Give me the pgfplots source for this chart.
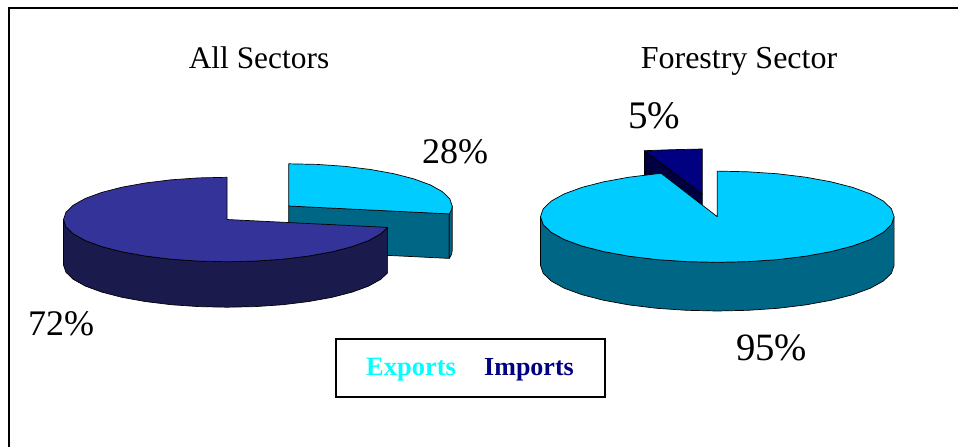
\documentclass[border=0pt]{standalone}
\usepackage{pgfplots}
\pgfplotsset{compat=1.18}
\usepackage{fontspec}
\setmainfont{Liberation Serif}
\definecolor{cyantop}{HTML}{00CCFF}
\definecolor{cyanwall}{HTML}{006685}
\definecolor{indigotop}{HTML}{333399}
\definecolor{indigowall}{HTML}{1A1A4D}
\definecolor{navytop}{HTML}{000080}
\definecolor{navywall}{HTML}{000040}
\definecolor{legendcyan}{HTML}{00FFFF}
\tikzset{caption text/.style={anchor=base, inner sep=0pt}}
\begin{document}
\begin{tikzpicture}[x=1pt,y=1pt]
\begin{axis}[
  width=958pt, height=447pt, scale only axis,
  xmin=0, xmax=958, ymin=0, ymax=447, y dir=reverse,
  hide axis, clip=true,
]
% Keep the whole plotting area on the page
\path (rel axis cs:0,0) rectangle (rel axis cs:1,1);
\pgfplotsset{slice/.style={draw=black, line width=0.7pt, line join=round}}

% Outer frame
\addplot[black, line width=1.5pt] coordinates {(9,447) (9,8) (958,8)};

% All Sectors: exports slice, pulled out
\addplot[slice, fill=cyanwall] coordinates {(288.7,206) (449.3,213.9) (449.3,258.4) (288.7,250.5)} -- cycle;
\addplot[slice, fill=cyanwall] coordinates {(452.2,206) (451.6,209.7) (449.3,213.9) (449.3,258.4) (451.6,254.2) (452.2,250.5)} -- cycle;
\addplot[slice, fill=cyantop] coordinates {(288.7,206) (288.7,163.8) (317.1,164.4) (344.6,166.3) (370.5,169.5) (393.8,173.7) (413.9,178.9) (430.3,184.9) (442.3,191.6) (449.7,198.7) (452.2,206) (451.6,209.7) (449.3,213.9)} -- cycle;

% All Sectors: imports slice
\addplot[slice, fill=indigowall] coordinates {(63.5,219.5) (66.0,226.8) (73.4,233.9) (85.4,240.6) (101.8,246.6) (121.9,251.8) (145.2,256.0) (171.1,259.2) (198.6,261.1) (227,261.7) (255.4,261.1) (282.9,259.2) (308.8,256.0) (332.1,251.8) (352.2,246.6) (368.6,240.6) (380.6,233.9) (387.6,227.4) (387.6,272.9) (380.6,279.4) (368.6,286.1) (352.2,292.1) (332.1,297.3) (308.8,301.5) (282.9,304.7) (255.4,306.6) (227,307.2) (198.6,306.6) (171.1,304.7) (145.2,301.5) (121.9,297.3) (101.8,292.1) (85.4,286.1) (73.4,279.4) (66.0,272.3) (63.5,265.0)} -- cycle;
\addplot[slice, fill=indigotop] coordinates {(227,219.5) (227,177.3) (198.6,177.9) (171.1,179.8) (145.2,183.0) (121.9,187.2) (101.8,192.4) (85.4,198.4) (73.4,205.1) (66.0,212.2) (63.5,219.5) (66.0,226.8) (73.4,233.9) (85.4,240.6) (101.8,246.6) (121.9,251.8) (145.2,256.0) (171.1,259.2) (198.6,261.1) (227,261.7) (255.4,261.1) (282.9,259.2) (308.8,256.0) (332.1,251.8) (352.2,246.6) (368.6,240.6) (380.6,233.9) (387.6,227.4)} -- cycle;

% Forestry Sector: imports slice, pulled out
\addplot[slice, fill=navywall] coordinates {(644.5,150.7) (702.3,194) (702.3,243) (644.5,200)} -- cycle;
\addplot[slice, fill=navytop] coordinates {(702.3,194) (702.3,149) (671.6,149.7) (644.5,150.7)} -- cycle;

% Forestry Sector: exports slice
\addplot[slice, fill=cyanwall] coordinates {(894.1,216.7) (891.4,224.6) (883.4,232.3) (870.4,239.5) (852.7,246.0) (830.9,251.6) (805.7,256.2) (777.8,259.6) (748.0,261.6) (717.3,262.3) (686.6,261.6) (656.8,259.6) (628.9,256.2) (603.7,251.6) (581.9,246.0) (564.2,239.5) (551.2,232.3) (543.2,224.6) (540.5,216.7) (540.5,265.4) (543.2,273.3) (551.2,281.0) (564.2,288.2) (581.9,294.7) (603.7,300.3) (628.9,304.9) (656.8,308.3) (686.6,310.3) (717.3,311.0) (748.0,310.3) (777.8,308.3) (805.7,304.9) (830.9,300.3) (852.7,294.7) (870.4,288.2) (883.4,281.0) (891.4,273.3) (894.1,265.4)} -- cycle;
\addplot[slice, fill=cyantop] coordinates {(717.3,216.7) (717.3,171.1) (748.0,171.8) (777.8,173.8) (805.7,177.2) (830.9,181.8) (852.7,187.4) (870.4,193.9) (883.4,201.1) (891.4,208.8) (894.1,216.7) (891.4,224.6) (883.4,232.3) (870.4,239.5) (852.7,246.0) (830.9,251.6) (805.7,256.2) (777.8,259.6) (748.0,261.6) (717.3,262.3) (686.6,261.6) (656.8,259.6) (628.9,256.2) (603.7,251.6) (581.9,246.0) (564.2,239.5) (551.2,232.3) (543.2,224.6) (540.5,216.7) (543.2,208.8) (551.2,201.1) (564.2,193.9) (581.9,187.4) (603.7,181.8) (628.9,177.2) (656.8,173.8) (661.5,173.6)} -- cycle;

% Legend box
\addplot[draw=black, line width=2pt, fill=white] coordinates {(336,339.3) (604.5,339.3) (604.5,396.7) (336,396.7)} -- cycle;

% Titles and value labels
\node[caption text] at (axis cs:259,68) {\fontsize{31.4}{36}\selectfont All Sectors};
\node[caption text] at (axis cs:739,68) {\fontsize{32}{36}\selectfont Forestry Sector};
\node[caption text] at (axis cs:455,163) {\fontsize{36}{40}\selectfont 28\%};
\node[caption text] at (axis cs:61,335) {\fontsize{36}{40}\selectfont 72\%};
\node[caption text] at (axis cs:654,128) {\fontsize{39}{42}\selectfont 5\%};
\node[caption text] at (axis cs:771.5,360) {\fontsize{38.7}{42}\selectfont 95\%};
\node[caption text, text=legendcyan] at (axis cs:411,375) {\fontsize{26.5}{30}\selectfont\bfseries Exports};
\node[caption text, text=navytop] at (axis cs:529,375) {\fontsize{26}{30}\selectfont\bfseries Imports};
\end{axis}
\end{tikzpicture}
\end{document}
